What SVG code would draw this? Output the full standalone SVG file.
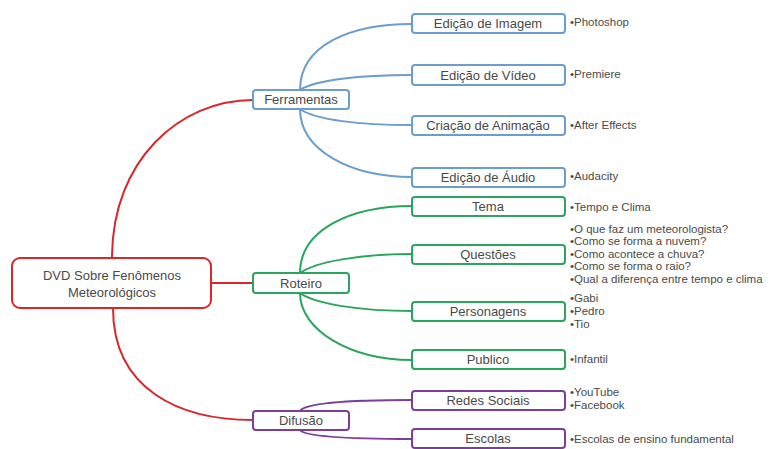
<svg xmlns="http://www.w3.org/2000/svg" width="771" height="449" viewBox="0 0 771 449">
<style>
.n{fill:#fff;stroke-width:2}
.r{stroke:#d8262c}.b{stroke:#6b9dcd}.g{stroke:#2aa55e}.p{stroke:#7b3f9b}
.t{font-family:"Liberation Sans",Arial,sans-serif;font-size:13px;fill:#4a4a4a;text-anchor:middle}
.s{font-family:"Liberation Sans",Arial,sans-serif;font-size:11.5px;fill:#4a4a4a}
#conn path{fill:none;stroke-width:2}
</style>
<rect width="771" height="449" fill="#fff"/>
<g id="conn">
<path class="r" d="M112,258 C112,160 180,100 253,100"/>
<path class="r" d="M113,308 C113,390 180,420 253,420"/>
<path class="r" d="M211,283 L253,283"/>
<path class="b" d="M300,90 C300,45 350,24 412,24"/>
<path class="b" d="M300,90 C315,80 360,75 412,75"/>
<path class="b" d="M300,109 C315,120 360,125 412,125"/>
<path class="b" d="M300,109 C300,150 350,177 412,177"/>
<path class="g" d="M300,273 C300,230 350,206 412,206"/>
<path class="g" d="M300,273 C315,262 360,254 412,254"/>
<path class="g" d="M300,293 C315,304 360,311 412,311"/>
<path class="g" d="M300,293 C300,330 350,360 412,360"/>
<path class="p" d="M300,411 C305,403 350,400 412,400"/>
<path class="p" d="M300,430 C305,437 350,439 412,439"/>
</g>
<g id="root"><rect class="n r" x="12" y="258" width="199" height="50" rx="8"/>
<text class="t" x="112" y="280">DVD Sobre Fenômenos</text><text class="t" x="112" y="297">Meteorológicos</text></g>
<g id="ferramentas"><rect class="n b" x="253" y="90" width="96" height="19" rx="3"/><text class="t" x="301" y="104">Ferramentas</text></g>
<g id="roteiro"><rect class="n g" x="253" y="273" width="96" height="20" rx="3"/><text class="t" x="301" y="288">Roteiro</text></g>
<g id="difusao"><rect class="n p" x="253" y="411" width="96" height="19" rx="3"/><text class="t" x="301" y="425">Difusão</text></g>
<g id="imagem"><rect class="n b" x="412" y="14" width="153" height="19" rx="3"/><text class="t" x="488" y="28">Edição de Imagem</text></g>
<g id="video"><rect class="n b" x="412" y="65" width="153" height="20" rx="3"/><text class="t" x="488" y="80">Edição de Vídeo</text></g>
<g id="animacao"><rect class="n b" x="412" y="116" width="153" height="19" rx="3"/><text class="t" x="488" y="130">Criação de Animação</text></g>
<g id="audio"><rect class="n b" x="412" y="168" width="153" height="19" rx="3"/><text class="t" x="488" y="182">Edição de Áudio</text></g>
<g id="tema"><rect class="n g" x="412" y="197" width="153" height="19" rx="3"/><text class="t" x="488" y="211">Tema</text></g>
<g id="questoes"><rect class="n g" x="412" y="245" width="153" height="19" rx="3"/><text class="t" x="488" y="259">Questões</text></g>
<g id="personagens"><rect class="n g" x="412" y="302" width="153" height="19" rx="3"/><text class="t" x="488" y="316">Personagens</text></g>
<g id="publico"><rect class="n g" x="412" y="350" width="153" height="19" rx="3"/><text class="t" x="488" y="364">Publico</text></g>
<g id="redes"><rect class="n p" x="412" y="391" width="153" height="19" rx="3"/><text class="t" x="488" y="405">Redes Sociais</text></g>
<g id="escolas"><rect class="n p" x="412" y="429" width="153" height="19" rx="3"/><text class="t" x="488" y="443">Escolas</text></g>
<g id="notes">
<text class="s" x="570" y="26">•Photoshop</text>
<text class="s" x="570" y="78">•Premiere</text>
<text class="s" x="570" y="129">•After Effects</text>
<text class="s" x="570" y="180">•Audacity</text>
<text class="s" x="570" y="211">•Tempo e Clima</text>
<text class="s" x="570" y="233">•O que faz um meteorologista?</text>
<text class="s" x="570" y="245">•Como se forma a nuvem?</text>
<text class="s" x="570" y="258">•Como acontece a chuva?</text>
<text class="s" x="570" y="270">•Como se forma o raio?</text>
<text class="s" x="570" y="283">•Qual a diferença entre tempo e clima</text>
<text class="s" x="570" y="302">•Gabi</text>
<text class="s" x="570" y="315">•Pedro</text>
<text class="s" x="570" y="328">•Tio</text>
<text class="s" x="570" y="363">•Infantil</text>
<text class="s" x="570" y="396">•YouTube</text>
<text class="s" x="570" y="409">•Facebook</text>
<text class="s" x="570" y="443">•Escolas de ensino fundamental</text>
</g>
</svg>
